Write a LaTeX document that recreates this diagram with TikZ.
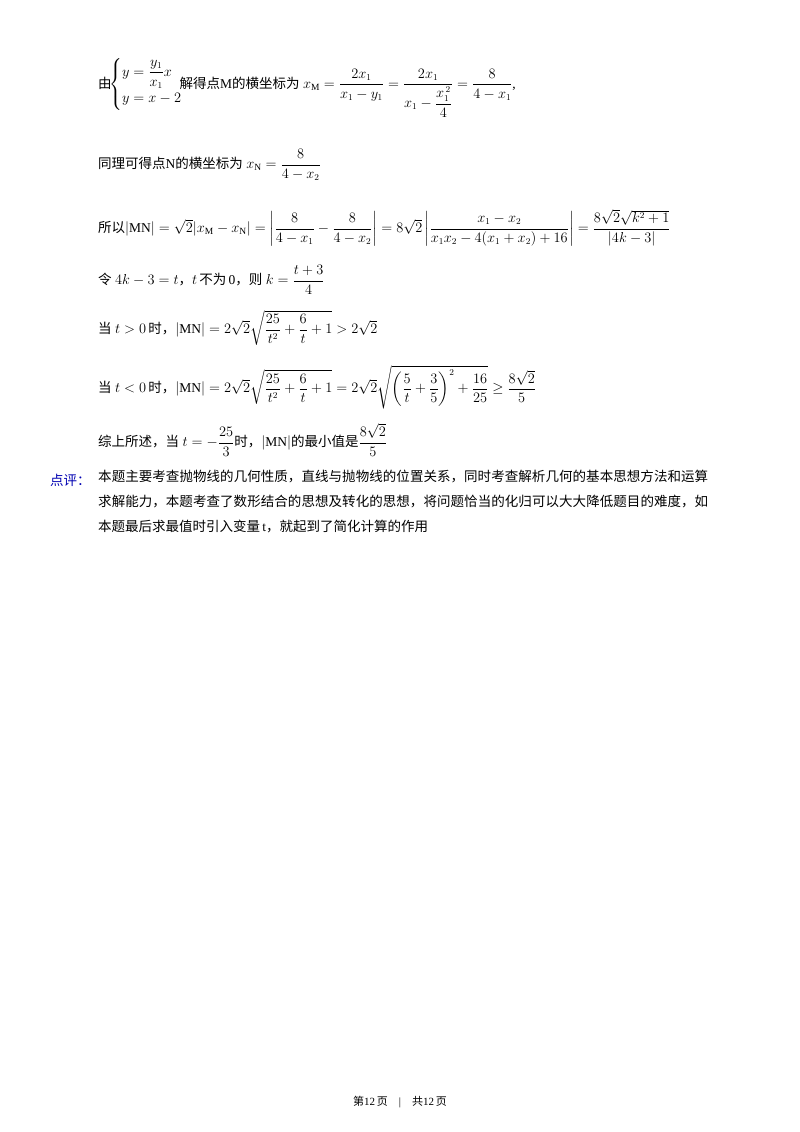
\documentclass[tikz,border=0pt]{standalone}
\usepackage{amsmath}
\usepackage{fontspec}
\setmainfont{Liberation Serif}
\newfontfamily\cjk{Noto Sans CJK SC}
\newcommand{\zh}[1]{{\cjk #1}}
\XeTeXlinebreaklocale "zh"
\XeTeXlinebreakskip=0pt plus 1pt
\begin{document}
\begin{tikzpicture}[x=1pt,y=-1pt,
  ln/.style={anchor=west,inner sep=0pt,font=\fontsize{13.5}{17}\selectfont},
  blue/.style={text=blue!70!black}]
\useasboundingbox (0,0) rectangle (800,1132);
\fill[white] (0,0) rectangle (800,1132);
\node[ln] (l1) at (98,88) {\zh{由}$\!\begin{cases} y=\dfrac{y_1}{x_1}x\\[4pt] y=x-2\end{cases}\hspace{-1.2em}$\zh{解得点}M\zh{的横坐标为} $x_{\mathrm M}=\dfrac{2x_1}{x_1-y_1}=\dfrac{2x_1}{x_1-\dfrac{x_1^{\,2}}{4}}=\dfrac{8}{4-x_1}$,};
\node[ln] (l2) at (98,165) {\zh{同理可得点}N\zh{的横坐标为} $x_{\mathrm N}=\dfrac{8}{4-x_2}$};
\node[ln] (l3) at (98,228) {\zh{所以}$|\mathrm{MN}|=\sqrt2|x_{\mathrm M}-x_{\mathrm N}|=\left|\dfrac{8}{4-x_1}-\dfrac{8}{4-x_2}\right|=8\sqrt2\left|\dfrac{x_1-x_2}{x_1x_2-4(x_1+x_2)+16}\right|=\dfrac{8\sqrt2\sqrt{k^2+1}}{|4k-3|}$};
\node[ln] (l4) at (98,280) {\zh{令} $4k-3=t$\zh{，}$t$\,\zh{不为}\,0\zh{，则} $k=\dfrac{t+3}{4}$};
\node[ln] (l5) at (98,328) {\zh{当} $t>0$\,\zh{时，}$|\mathrm{MN}|=2\sqrt2\sqrt{\dfrac{25}{t^2}+\dfrac{6}{t}+1}>2\sqrt2$};
\node[ln] (l6) at (98,387) {\zh{当} $t<0$\,\zh{时，}$|\mathrm{MN}|=2\sqrt2\sqrt{\dfrac{25}{t^2}+\dfrac{6}{t}+1}=2\sqrt2\sqrt{\left(\dfrac{5}{t}+\dfrac{3}{5}\right)^2+\dfrac{16}{25}}\geq\dfrac{8\sqrt2}{5}$};
\node[ln] (l7) at (98,440) {\zh{综上所述，当} $t=-\dfrac{25}{3}$\zh{时，}$|\mathrm{MN}|$\zh{的最小值是}$\dfrac{8\sqrt2}{5}$};
\node[ln,blue] (c0) at (50,480) {\zh{点评：}};
\node[anchor=north west,inner sep=0pt,text width=610pt,align=justify,font=\fontsize{13.5}{25}\selectfont] (c1) at (98,470) {\zh{本题主要考查抛物线的几何性质，直线与抛物线的位置关系，同时考查解析几何的基本思想方法和运算求解能力，本题考查了数形结合的思想及转化的思想，将问题恰当的化归可以大大降低题目的难度，如本题最后求最值时引入变量}\,t\zh{，就起到了简化计算的作用}};
\node[inner sep=0pt,font=\fontsize{11}{13}\selectfont] (ft) at (400,1102) {\zh{第}12\,\zh{页}\quad|\quad\zh{共}12\,\zh{页}};
\end{tikzpicture}
\end{document}
